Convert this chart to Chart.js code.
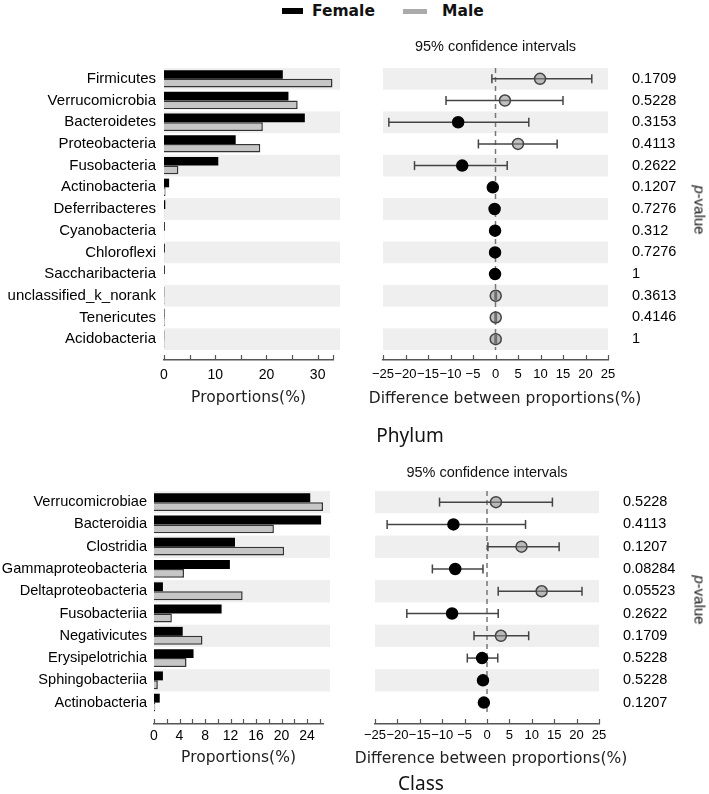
<!DOCTYPE html>
<html>
<head>
<meta charset="utf-8">
<script src="https://cdn.jsdelivr.net/npm/chart.js@4.4.1/dist/chart.umd.min.js"></script>
<style>
  body { margin: 0; background: #fff; width: 709px; height: 794px; position: relative; overflow: hidden; }
  canvas { position: absolute; }
  .txt { position: absolute; white-space: nowrap; color: #111; }
  .mid { transform: translate(-50%, -50%); }
  .legtxt { font: bold 15.5px "DejaVu Sans", sans-serif; line-height: 18px; }
  .panel { font: 19px "Noto Sans", sans-serif; }
  .axt { font: 15.5px "DejaVu Sans", sans-serif; color: #222; }
  .pv { font: 15px "Liberation Sans", Arial, sans-serif; transform: translate(-50%, -50%) rotate(90deg); }
</style>
</head>
<body>
<div style="position:absolute;left:282px;top:8px;width:21px;height:6px;background:#000"></div>
<div class="txt legtxt" style="left:312px;top:2px">Female</div>
<div style="position:absolute;left:403px;top:9px;width:24px;height:5px;background:#aaa"></div>
<div class="txt legtxt" style="left:442px;top:2px">Male</div>

<canvas id="phylumBars" width="350" height="395" style="left:0;top:25px"></canvas>
<canvas id="phylumForest" width="349" height="395" style="left:360px;top:25px"></canvas>
<div class="txt axt mid" style="left:505px;top:398px">Difference between proportions(%)</div>
<div class="txt pv" style="left:700px;top:210px"><i>p</i>-value</div>
<div class="txt panel mid" style="left:410px;top:435px">Phylum</div>

<canvas id="classBars" width="350" height="330" style="left:0;top:450px"></canvas>
<canvas id="classForest" width="349" height="330" style="left:360px;top:450px"></canvas>
<div class="txt axt mid" style="left:491px;top:758px">Difference between proportions(%)</div>
<div class="txt pv" style="left:700px;top:600px"><i>p</i>-value</div>
<div class="txt panel mid" style="left:421px;top:783px">Class</div>

<script>
// ---- Phylum ----
var phylumNames = ['Firmicutes', 'Verrucomicrobia', 'Bacteroidetes', 'Proteobacteria', 'Fusobacteria',
  'Actinobacteria', 'Deferribacteres', 'Cyanobacteria', 'Chloroflexi', 'Saccharibacteria',
  'unclassified_k_norank', 'Tenericutes', 'Acidobacteria'];
var phylumFemale = [23.2, 24.3, 27.5, 14.0, 10.6, 1.0, 0.25, 0.15, 0.15, 0.15, 0.05, 0.1, 0.05];
var phylumMale = [32.9, 26.1, 19.3, 18.8, 2.8, 0.3, 0.05, 0.05, 0.05, 0.05, 0.1, 0.15, 0.1];
var phylumDiff = [9.9, 2.1, -8.3, 5.0, -7.4, -0.6, -0.2, -0.1, -0.1, -0.1, 0.05, 0.05, 0.05];
var phylumLow = [-0.8, -11.0, -23.7, -3.8, -18.0, -1.0, -0.4, -0.3, -0.3, -0.3, -0.1, -0.1, -0.1];
var phylumHigh = [21.4, 15.0, 7.4, 13.7, 2.6, -0.2, 0.0, 0.1, 0.1, 0.1, 0.2, 0.2, 0.2];
var phylumP = ['0.1709', '0.5228', '0.3153', '0.4113', '0.2622', '0.1207', '0.7276', '0.312', '0.7276', '1', '0.3613', '0.4146', '1'];

// ---- Class ----
var classNames = ['Verrucomicrobiae', 'Bacteroidia', 'Clostridia', 'Gammaproteobacteria', 'Deltaproteobacteria',
  'Fusobacteriia', 'Negativicutes', 'Erysipelotrichia', 'Sphingobacteriia', 'Actinobacteria'];
var classFemale = [24.5, 26.2, 12.7, 11.9, 1.4, 10.6, 4.5, 6.2, 1.4, 0.9];
var classMale = [26.5, 18.8, 20.4, 4.7, 13.9, 2.8, 7.6, 5.1, 0.6, 0.2];
var classDiff = [2.0, -7.5, 7.7, -7.1, 12.2, -7.8, 3.1, -1.1, -0.9, -0.7];
var classLow = [-10.6, -22.3, 0.2, -12.2, 2.5, -17.9, -2.9, -4.4, -1.5, -1.2];
var classHigh = [14.6, 8.6, 16.1, -0.9, 21.2, 2.5, 9.3, 2.4, -0.3, -0.3];
var classP = ['0.5228', '0.4113', '0.1207', '0.08284', '0.05523', '0.2622', '0.1709', '0.5228', '0.5228', '0.1207'];

var SANS = '"Liberation Sans", Arial, sans-serif';
var WIDE = '"DejaVu Sans", sans-serif';

// grey band behind every other row
var stripes = {
  id: 'stripes',
  beforeDatasetsDraw: function (chart, args, opts) {
    var ys = chart.scales.y, a = chart.chartArea, ctx = chart.ctx;
    ctx.save();
    ctx.fillStyle = '#efefef';
    for (var i = 0; i < opts.rows; i += 2) {
      var y0 = ys.getPixelForValue(i - 0.5), y1 = ys.getPixelForValue(i + 0.5);
      ctx.fillRect(a.left, y0, a.right - a.left + (opts.extend || 0), y1 - y0);
    }
    ctx.restore();
  }
};

// tick marks pointing up from the x axis line
var innerTicks = {
  id: 'innerTicks',
  afterDraw: function (chart) {
    var s = chart.scales.x, ctx = chart.ctx, y = chart.chartArea.bottom;
    ctx.save();
    ctx.strokeStyle = '#555';
    ctx.lineWidth = 1.2;
    s.ticks.forEach(function (t) {
      var px = Math.round(s.getPixelForValue(t.value)) + 0.5;
      ctx.beginPath();
      ctx.moveTo(px, y);
      ctx.lineTo(px, y - 5);
      ctx.stroke();
    });
    ctx.restore();
  }
};

function rowTicks(n) {
  return function (scale) {
    var t = [];
    for (var i = 0; i < n; i++) t.push({ value: i });
    scale.ticks = t;
  };
}

function barChart(id, names, female, male, o) {
  var n = names.length;
  return new Chart(document.getElementById(id), {
    type: 'bar',
    data: {
      datasets: [{
        label: 'Female',
        data: female.map(function (v, i) { return { x: v, y: i }; }),
        backgroundColor: '#000',
        borderWidth: 0,
        categoryPercentage: 0.8,
        barPercentage: 1
      }, {
        label: 'Male',
        data: male.map(function (v, i) { return { x: v, y: i }; }),
        backgroundColor: '#c6c6c6',
        borderColor: '#333',
        borderWidth: 1.5,
        categoryPercentage: 0.8,
        barPercentage: 1
      }]
    },
    plugins: [stripes, innerTicks],
    options: {
      indexAxis: 'y',
      responsive: false,
      animation: false,
      events: [],
      layout: { padding: { top: o.top, right: o.right, left: 0, bottom: 0 } },
      plugins: {
        legend: { display: false },
        tooltip: { enabled: false },
        stripes: { rows: n, extend: o.extend }
      },
      scales: {
        y: {
          type: 'linear', reverse: true, offset: false, bounds: 'data',
          min: -0.5, max: n - 0.5 + 0.46,
          afterBuildTicks: rowTicks(n),
          afterFit: function (s) { s.width = o.axisLeft; },
          grid: { display: false, drawTicks: false },
          border: { display: false },
          ticks: {
            padding: o.labelPad, color: '#000', autoSkip: false,
            font: { family: SANS, size: o.labelSize },
            callback: function (v) { return names[v]; }
          }
        },
        x: {
          type: 'linear', min: 0, max: o.max, bounds: 'data',
          afterFit: function (s) { s.height = o.bottom; },
          grid: { display: false, drawTicks: false },
          border: { color: '#555', width: 1.5 },
          ticks: {
            stepSize: o.step, includeBounds: false, autoSkip: false, maxRotation: 0,
            padding: o.tickPad, color: '#000',
            font: { family: SANS, size: 14 },
            callback: function (v) { return v % o.labelEvery === 0 ? String(v) : ''; }
          },
          title: {
            display: true, text: 'Proportions(%)', color: '#222',
            font: { family: WIDE, size: 15.5 },
            padding: { top: 0, bottom: 12.7 }
          }
        }
      }
    }
  });
}

function forestChart(id, diff, low, high, pvals, o) {
  var n = diff.length;
  var datasets = [{
    type: 'scatter',
    data: diff.map(function (v, i) { return { x: v, y: i }; }),
    pointRadius: 5.5,
    pointBackgroundColor: diff.map(function (v) { return v > 0 ? 'rgba(140,140,140,0.55)' : '#000'; }),
    pointBorderColor: diff.map(function (v) { return v > 0 ? '#444' : '#000'; }),
    pointBorderWidth: 1.5,
    order: 0
  }];
  low.forEach(function (lo, i) {
    datasets.push({
      type: 'line',
      data: [{ x: lo, y: i }, { x: high[i], y: i }],
      borderColor: '#444',
      borderWidth: 1.5,
      pointStyle: 'line',
      pointRotation: 90,
      pointRadius: 4.5,
      pointBorderColor: '#444',
      pointBorderWidth: 1.5,
      order: 1
    });
  });
  datasets.push({
    type: 'line',
    data: [{ x: 0, y: -0.5 }, { x: 0, y: n - 0.5 }],
    borderColor: '#777',
    borderWidth: 1.5,
    borderDash: [5, 4],
    pointRadius: 0,
    order: 2
  });

  return new Chart(document.getElementById(id), {
    type: 'scatter',
    data: { datasets: datasets },
    plugins: [stripes, innerTicks],
    options: {
      responsive: false,
      animation: false,
      events: [],
      layout: { padding: { left: o.left, top: 0, right: 0, bottom: 0 } },
      plugins: {
        legend: { display: false },
        tooltip: { enabled: false },
        stripes: { rows: n, extend: 0 }
      },
      scales: {
        x: {
          type: 'linear', position: 'bottom', min: -25, max: 25, bounds: 'data',
          afterFit: function (s) { s.height = o.bottom; },
          grid: { display: false, drawTicks: false },
          border: { color: '#555', width: 1.5 },
          ticks: {
            stepSize: 5, autoSkip: false, maxRotation: 0, padding: o.tickPad, color: '#000',
            font: { family: SANS, size: 13 },
            callback: function (v) { return v < 0 ? '\u2212' + (-v) : String(v); }
          }
        },
        xTop: {
          type: 'linear', position: 'top', min: -25, max: 25, bounds: 'data',
          afterFit: function (s) { s.height = o.top; },
          grid: { display: false, drawTicks: false },
          border: { display: false },
          ticks: { display: false },
          title: {
            display: true, text: '95% confidence intervals', color: '#111',
            font: { family: SANS, size: 14.5 },
            padding: { top: o.titleTop, bottom: 0 }
          }
        },
        y: {
          type: 'linear', position: 'right', reverse: true, bounds: 'data',
          min: -0.5, max: n - 0.5 + 0.46,
          afterBuildTicks: rowTicks(n),
          afterFit: function (s) { s.width = o.right; },
          grid: { display: false, drawTicks: false },
          border: { display: false },
          ticks: {
            padding: 24, color: '#000', autoSkip: false,
            font: { family: SANS, size: 14.5 },
            callback: function (v) { return pvals[v]; }
          }
        }
      }
    }
  });
}

barChart('phylumBars', phylumNames, phylumFemale, phylumMale, {
  top: 43, bottom: 60, right: 17, axisLeft: 164, max: 33, step: 5, labelEvery: 10,
  extend: 7, labelPad: 8, tickPad: 7, labelSize: 15
});
forestChart('phylumForest', phylumDiff, phylumLow, phylumHigh, phylumP, {
  top: 43, bottom: 60, left: 23, right: 101, titleTop: 13.3, tickPad: 7
});
barChart('classBars', classNames, classFemale, classMale, {
  top: 41, bottom: 56, right: 27, axisLeft: 154, max: 26.5, step: 2, labelEvery: 4,
  extend: 7, labelPad: 7, tickPad: 4, labelSize: 14.6
});
forestChart('classForest', classDiff, classLow, classHigh, classP, {
  top: 41, bottom: 56, left: 13, right: 110, titleTop: 14.3, tickPad: 4
});
</script>
</body>
</html>
